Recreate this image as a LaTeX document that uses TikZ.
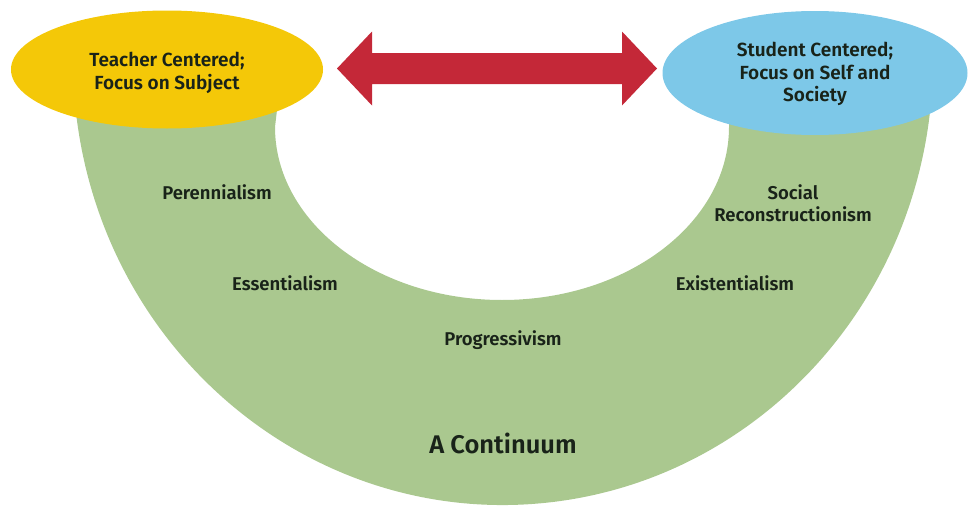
\documentclass[tikz,border=0pt]{standalone}
\usepackage{fontspec}
\setmainfont{Fira Sans SemiBold}
\usetikzlibrary{shapes.geometric}
\definecolor{bandgreen}{RGB}{170,200,143}
\definecolor{tyellow}{RGB}{244,200,8}
\definecolor{sblue}{RGB}{125,200,232}
\definecolor{ared}{RGB}{196,40,56}
\definecolor{txt}{RGB}{25,35,25}
\newcommand{\ovaltext}[2]{\raisebox{#1}[\height][\depth]{\begin{tabular}{@{}c@{}}#2\end{tabular}}}
\begin{document}
\begin{tikzpicture}[x=1pt,y=1pt,
  endoval/.style={ellipse, inner sep=0pt, align=center, text=txt, font=\fontsize{19}{22.5}\selectfont},
  lbl/.style={align=center, text=txt, font=\fontsize{18.5}{22}\selectfont, inner sep=1pt},
  band/.style={fill=bandgreen},
  bigarrow/.style={fill=ared}]
\useasboundingbox (0,0) rectangle (969,-506);
% the green continuum band
\fill[band] (75.7,-110) arc[start angle=186.45, end angle=353.55, x radius=430, y radius=445]
  -- (729,-110) -- (729,-127)
  arc[start angle=0, end angle=-180, x radius=227, y radius=173]
  -- (277,-110) -- cycle;
% end ellipses
\node[endoval, fill=tyellow, minimum width=312, minimum height=118] (teacher) at (167,-69.5) {\ovaltext{-4pt}{Teacher Centered;\\Focus on Subject}};
\node[endoval, fill=sblue, minimum width=305, minimum height=124] (student) at (815,-73) {\ovaltext{-1.5pt}{Student Centered;\\Focus on Self and\\Society}};
% double arrow between them
\coordinate (al) at (337,-68.5);
\coordinate (ar) at (657,-68.5);
\fill[bigarrow] (al) -- ([shift={(35,37)}]al) -- ([shift={(35,15.5)}]al)
  -- ([shift={(-35,15.5)}]ar) -- ([shift={(-35,37)}]ar) -- (ar)
  -- ([shift={(-35,-37)}]ar) -- ([shift={(-35,-15.5)}]ar)
  -- ([shift={(35,-15.5)}]al) -- ([shift={(35,-37)}]al) -- cycle;
% labels
\node[lbl] (per) at (217,-192) {Perennialism};
\node[lbl] (ess) at (285,-283) {Essentialism};
\node[lbl] (pro) at (503,-340) {Progressivism};
\node[lbl] (soc) at (793,-203) {Social\\Reconstructionism};
\node[lbl] (exi) at (735,-283) {Existentialism};
\node[lbl, font=\fontsize{25.5}{30}\selectfont] (con) at (503,-443) {A Continuum};
\end{tikzpicture}
\end{document}
